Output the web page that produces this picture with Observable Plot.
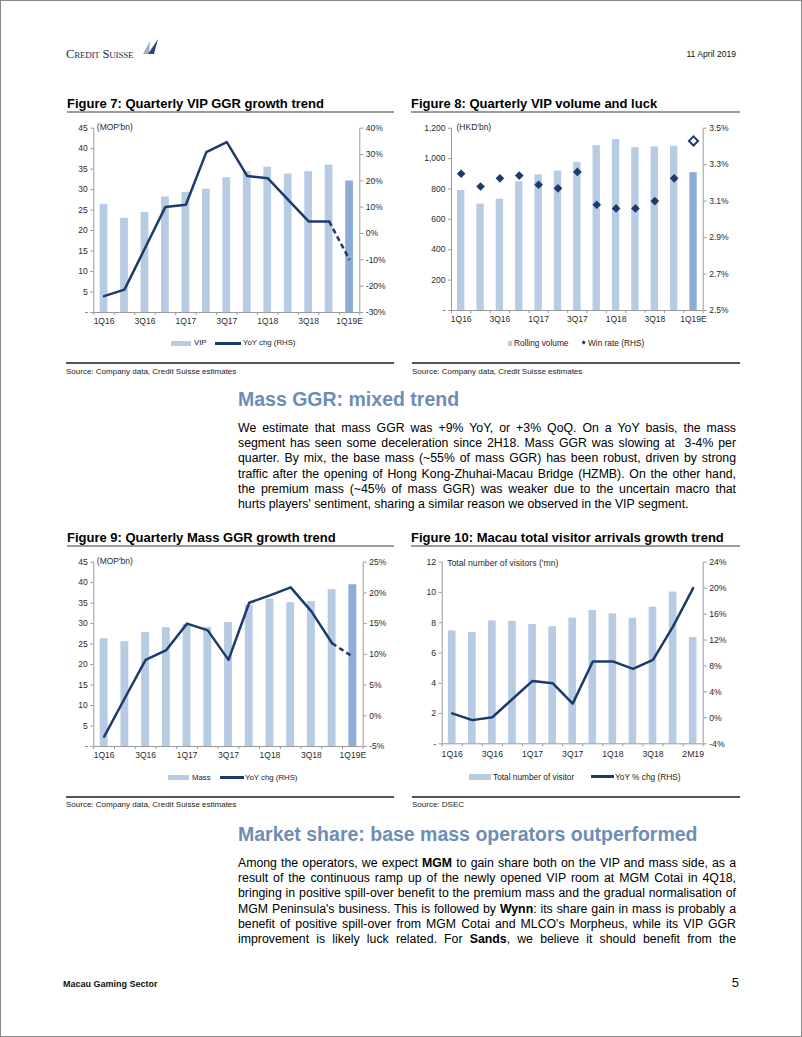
<!DOCTYPE html>
<html><head><meta charset="utf-8">
<script src="https://cdn.jsdelivr.net/npm/d3@7"></script>
<script src="https://cdn.jsdelivr.net/npm/@observablehq/plot@0.6"></script>
<style>
html,body{margin:0;padding:0;background:#fff;}
#page{position:relative;width:802px;height:1037px;box-sizing:border-box;border:1px solid #8a8a8a;overflow:hidden;font-family:"Liberation Sans",Arial,sans-serif;color:#000;}
.abs{position:absolute;white-space:nowrap;}
.ftitle{font-weight:bold;font-size:13px;line-height:16px;}
.uline{height:2px;background:#9c9c9c;}
.rule{height:2px;background:#555;}
.src{font-size:8px;line-height:10px;color:#222;}
.head{font-weight:bold;font-size:19.5px;line-height:24px;color:#6e8db5;}
.body{position:absolute;font-size:12.3px;line-height:15.33px;width:498px;}
.body div{text-align:justify;text-align-last:justify;white-space:normal;}
.body div.last{text-align-last:left;}
.lg{font-size:7.8px;line-height:10px;color:#222;}
.lg2{font-size:8.3px;line-height:10px;color:#222;}
.chart{position:absolute;}
</style>
</head><body>
<div id="page">
  <!-- header -->
  <div class="abs" style="left:65px;top:45px;font-family:'Liberation Serif','Times New Roman',serif;font-variant:small-caps;font-size:12.5px;line-height:16px;color:#1f2d52;letter-spacing:-0.2px;">Credit Suisse</div>
  <svg class="abs" style="left:140px;top:37px" width="20" height="17" viewBox="0 0 20 17">
    <polygon points="2,16 9,3 8,16" fill="#9fb0cb"/>
    <polygon points="7,16 17,1 13,16" fill="#2d4677"/>
  </svg>
  <div class="abs" style="right:65px;top:47.5px;font-size:8.6px;line-height:10px;color:#111;">11 April 2019</div>

  <!-- figure 7 / 8 titles -->
  <div class="abs ftitle" style="left:66px;top:94.7px;">Figure 7: Quarterly VIP GGR growth trend</div>
  <div class="abs uline" style="left:66px;top:109.5px;width:327px;"></div>
  <div class="abs ftitle" style="left:410px;top:94.7px;">Figure 8: Quarterly VIP volume and luck</div>
  <div class="abs uline" style="left:410px;top:109.5px;width:329px;"></div>

  <div class="chart" id="fig7" style="left:40px;top:112px;"></div>
  <div class="chart" id="fig8" style="left:400px;top:112px;"></div>

  <!-- legends 7/8 -->
  <div class="abs" style="left:170px;top:339.8px;width:20px;height:5px;background:#b7cbe3;"></div>
  <div class="abs lg" style="left:193px;top:337.3px;">VIP</div>
  <div class="abs" style="left:214px;top:341px;width:26px;height:2.6px;background:#1d3a6c;"></div>
  <div class="abs lg" style="left:242px;top:337.3px;">YoY chg (RHS)</div>

  <div class="abs" style="left:506.5px;top:340px;width:4.5px;height:4.5px;background:#b7cbe3;"></div>
  <div class="abs lg2" style="left:513px;top:337px;">Rolling volume</div>
  <div class="abs" style="left:581.2px;top:340.3px;width:3.4px;height:3.4px;background:#1d3a6c;transform:rotate(45deg);"></div>
  <div class="abs lg2" style="left:587px;top:337px;">Win rate (RHS)</div>

  <div class="abs rule" style="left:65px;top:361px;width:328px;"></div>
  <div class="abs rule" style="left:411px;top:361px;width:328px;"></div>
  <div class="abs src" style="left:65px;top:365.7px;">Source: Company data, Credit Suisse estimates</div>
  <div class="abs src" style="left:411px;top:365.7px;">Source: Company data, Credit Suisse estimates</div>

  <!-- section 1 -->
  <div class="abs head" style="left:237px;top:386.3px;">Mass GGR: mixed trend</div>
  <div class="body" id="p1" style="left:237px;top:419.7px;"></div>

  <!-- figure 9 / 10 titles -->
  <div class="abs ftitle" style="left:66px;top:528.7px;">Figure 9: Quarterly Mass GGR growth trend</div>
  <div class="abs uline" style="left:66px;top:543.5px;width:327px;"></div>
  <div class="abs ftitle" style="left:410px;top:528.7px;">Figure 10: Macau total visitor arrivals growth trend</div>
  <div class="abs uline" style="left:410px;top:543.5px;width:329px;"></div>

  <div class="chart" id="fig9" style="left:40px;top:546px;"></div>
  <div class="chart" id="fig10" style="left:400px;top:546px;"></div>

  <!-- legends 9/10 -->
  <div class="abs" style="left:167px;top:774.2px;width:21px;height:5px;background:#b7cbe3;"></div>
  <div class="abs lg" style="left:191px;top:771.7px;">Mass</div>
  <div class="abs" style="left:219px;top:775.4px;width:24px;height:2.6px;background:#1d3a6c;"></div>
  <div class="abs lg" style="left:244px;top:771.7px;">YoY chg (RHS)</div>

  <div class="abs" style="left:468px;top:772.7px;width:22px;height:6px;background:#b7cbe3;"></div>
  <div class="abs lg2" style="left:492px;top:770.7px;">Total number of visitor</div>
  <div class="abs" style="left:590px;top:774.4px;width:23px;height:2.6px;background:#1d3a6c;"></div>
  <div class="abs lg2" style="left:614px;top:770.7px;">YoY % chg (RHS)</div>

  <div class="abs rule" style="left:65px;top:795px;width:328px;"></div>
  <div class="abs rule" style="left:411px;top:795px;width:328px;"></div>
  <div class="abs src" style="left:65px;top:799.3px;">Source: Company data, Credit Suisse estimates</div>
  <div class="abs src" style="left:411px;top:799.3px;">Source: DSEC</div>

  <!-- section 2 -->
  <div class="abs head" style="left:237px;top:821.3px;">Market share: base mass operators outperformed</div>
  <div class="body" id="p2" style="left:237px;top:854.6px;"></div>

  <!-- footer -->
  <div class="abs" style="left:62px;top:978px;font-size:9px;line-height:10px;font-weight:bold;color:#111;">Macau Gaming Sector</div>
  <div class="abs" style="right:62px;top:974px;font-size:13px;line-height:16px;color:#111;">5</div>
</div>

<script>
// ---------- data ----------
const quarters = ["1Q16","2Q16","3Q16","4Q16","1Q17","2Q17","3Q17","4Q17","1Q18","2Q18","3Q18","4Q18","1Q19E"];
const periods10 = ["1Q16","2Q16","3Q16","4Q16","1Q17","2Q17","3Q17","4Q17","1Q18","2Q18","3Q18","4Q18","2M19"];

const vipGGR = [26.4,23.0,24.4,28.2,29.3,30.1,32.9,34.4,35.5,33.8,34.4,36.0,32.1];
const vipYoY = [-23.8,-21.3,-5.6,10.1,10.9,30.9,34.7,21.8,21.0,12.8,4.6,4.6,-10.0];

const rollingVolume = [790,700,733,848,892,918,975,1085,1125,1072,1077,1081,907];
const winRate = [3.25,3.18,3.225,3.24,3.19,3.17,3.26,3.08,3.06,3.06,3.10,3.225,3.43];

const massGGR = [26.3,25.6,27.8,29.0,29.8,29.1,30.3,34.5,36.0,35.1,35.4,38.3,39.5];
const massYoY = [-3.4,2.9,9.1,10.7,15.0,13.9,9.1,18.4,19.6,20.9,17.0,11.8,9.6];

const visitors = [7.46,7.35,8.12,8.10,7.88,7.73,8.30,8.81,8.59,8.30,9.03,10.02,7.02];
const visitorYoY = [0.7,-0.35,0.1,2.9,5.7,5.35,2.2,8.7,8.7,7.56,8.95,14.1,20.0];

const ticks7L = [0,5,10,15,20,25,30,35,40,45];
const ticks7R = [-30,-20,-10,0,10,20,30,40];
const ticks8L = [0,200,400,600,800,1000,1200];
const ticks8R = [2.5,2.7,2.9,3.1,3.3,3.5];
const ticks9L = [0,5,10,15,20,25,30,35,40,45];
const ticks9R = [-5,0,5,10,15,20,25];
const ticks10L = [0,2,4,6,8,10,12];
const ticks10R = [-4,0,4,8,12,16,20,24];

const para1 = [
  "We estimate that mass GGR was +9% YoY, or +3% QoQ. On a YoY basis, the mass",
  "segment has seen some deceleration since 2H18. Mass GGR was slowing at &nbsp;3-4% per",
  "quarter. By mix, the base mass (~55% of mass GGR) has been robust, driven by strong",
  "traffic after the opening of Hong Kong-Zhuhai-Macau Bridge (HZMB). On the other hand,",
  "the premium mass (~45% of mass GGR) was weaker due to the uncertain macro that",
  "hurts players' sentiment, sharing a similar reason we observed in the VIP segment."
];
const para2 = [
  "Among the operators, we expect <b>MGM</b> to gain share both on the VIP and mass side, as a",
  "result of the continuous ramp up of the newly opened VIP room at MGM Cotai in 4Q18,",
  "bringing in positive spill-over benefit to the premium mass and the gradual normalisation of",
  "MGM Peninsula's business. This is followed by <b>Wynn</b>: its share gain in mass is probably a",
  "benefit of positive spill-over from MGM Cotai and MLCO's Morpheus, while its VIP GGR",
  "improvement is likely luck related. For <b>Sands</b>, we believe it should benefit from the"
];

// ---------- text ----------
document.getElementById("p1").innerHTML = para1.map((l,i)=>`<div${i===para1.length-1?' class="last"':''}>${l}</div>`).join("");
document.getElementById("p2").innerHTML = para2.map(l=>`<div>${l}</div>`).join("");

// ---------- charts ----------
const LIGHT = "#b7cbe3", DARK = "#8dadd6", NAVY = "#1d3a6c", AX = "#9a9a9a", TXT = "#2a2a2a";
const FONT = "'Liberation Sans', Arial, sans-serif";

function dual(cfg) {
  const {cats, bars, right, leftDomain, leftTicks, leftFmt, rightDomain, rightTicks, rightFmt,
         W, H, ml, mr, mt, mb, unit, unitDx, unitDy, fs, estLast, dashLast, dots, xPad} = cfg;
  const N = cats.length;
  const L0 = leftDomain[0], LS = leftDomain[1] - leftDomain[0];
  const R0 = rightDomain[0], RS = rightDomain[1] - rightDomain[0];
  const toL = r => L0 + (r - R0) / RS * LS;
  const toR = v => R0 + (v - L0) / LS * RS;
  const data = cats.map((c, i) => ({i, c, v: bars[i], r: right[i], est: !!estLast && i === N - 1}));
  const bounds = d3.range(N + 1).map(i => i - 0.5);
  const hw = 0.19;
  const marks = [
    Plot.rectY(data.filter(d => !d.est), {x1: d => d.i - hw, x2: d => d.i + hw, y1: L0, y2: "v", fill: LIGHT}),
    Plot.rectY(data.filter(d => d.est), {x1: d => d.i - hw, x2: d => d.i + hw, y1: L0, y2: "v", fill: DARK}),
    Plot.ruleY([L0], {stroke: AX}),
    Plot.ruleX([bounds[0], bounds[N]], {x: d => d, stroke: AX}),
    Plot.ruleX(bounds, {x: d => d, y1: L0, y2: L0, insetBottom: -3, stroke: AX}),
    Plot.axisX({ticks: d3.range(0, N, 2), tickFormat: i => cats[i], tickSize: 0, tickPadding: xPad, fill: TXT, label: null}),
    Plot.axisY({anchor: "left", ticks: leftTicks, tickFormat: leftFmt, tickSize: 3, tickPadding: 3, stroke: AX, fill: TXT, label: null}),
    Plot.axisY({anchor: "right", ticks: rightTicks.map(toL), tickFormat: v => rightFmt(toR(v)), tickSize: 3, tickPadding: 3, stroke: AX, fill: TXT, label: null}),
    Plot.text([unit], {text: d => d, frameAnchor: "top-left", dx: unitDx, dy: unitDy, fill: TXT, fontSize: fs})
  ];
  if (dots) {
    marks.push(Plot.dot(data.filter(d => !d.est), {x: "i", y: d => toL(d.r), symbol: "diamond2", r: 3.9, fill: NAVY, stroke: "none"}));
    marks.push(Plot.dot(data.filter(d => d.est), {x: "i", y: d => toL(d.r), symbol: "diamond2", r: 4.1, fill: "white", stroke: NAVY, strokeWidth: 2}));
  } else if (dashLast) {
    marks.push(Plot.line(data.slice(0, N - 1), {x: "i", y: d => toL(d.r), stroke: NAVY, strokeWidth: 2.5}));
    marks.push(Plot.line(data.slice(N - 2), {x: "i", y: d => toL(d.r), stroke: NAVY, strokeWidth: 2.5, strokeDasharray: "5,3.5", strokeLinecap: "butt"}));
  } else {
    marks.push(Plot.line(data, {x: "i", y: d => toL(d.r), stroke: NAVY, strokeWidth: 2.5}));
  }
  return Plot.plot({
    width: W, height: H, marginLeft: ml, marginRight: mr, marginTop: mt, marginBottom: mb,
    x: {type: "linear", domain: [-0.5, N - 0.5], label: null},
    y: {domain: leftDomain, label: null},
    style: {fontFamily: FONT, fontSize: fs + "px", background: "transparent", overflow: "visible", color: TXT},
    marks
  });
}

const dashFmt = d => d === 0 ? "-" : d3.format(",")(d);
const pct0 = r => Math.round(r) + "%";
const pct1 = r => (Math.round(r * 10) / 10).toFixed(1) + "%";

document.getElementById("fig7").appendChild(dual({
  cats: quarters, bars: vipGGR, right: vipYoY,
  leftDomain: [0, 45], leftTicks: ticks7L, leftFmt: dashFmt,
  rightDomain: [-30, 40], rightTicks: ticks7R, rightFmt: pct0,
  W: 360, H: 218, ml: 52.3, mr: 41.7, mt: 14.7, mb: 19,
  unit: "(MOP'bn)", unitDx: 3, unitDy: -4, fs: 8.5, estLast: true, dashLast: true, xPad: 5.5
}));

document.getElementById("fig8").appendChild(dual({
  cats: quarters, bars: rollingVolume, right: winRate,
  leftDomain: [0, 1200], leftTicks: ticks8L, leftFmt: dashFmt,
  rightDomain: [2.5, 3.5], rightTicks: ticks8R, rightFmt: pct1,
  W: 345, H: 216, ml: 50, mr: 43.3, mt: 14.7, mb: 19,
  unit: "(HKD'bn)", unitDx: 5, unitDy: -4, fs: 8.5, estLast: true, dots: true, xPad: 5.5
}));

document.getElementById("fig9").appendChild(dual({
  cats: quarters, bars: massGGR, right: massYoY,
  leftDomain: [0, 45], leftTicks: ticks9L, leftFmt: dashFmt,
  rightDomain: [-5, 25], rightTicks: ticks9R, rightFmt: pct0,
  W: 360, H: 218, ml: 52.3, mr: 38.3, mt: 14.7, mb: 19,
  unit: "(MOP'bn)", unitDx: 3, unitDy: -4, fs: 8.5, estLast: true, dashLast: true, xPad: 5.5
}));

document.getElementById("fig10").appendChild(dual({
  cats: periods10, bars: visitors, right: visitorYoY,
  leftDomain: [0, 12], leftTicks: ticks10L, leftFmt: dashFmt,
  rightDomain: [-4, 24], rightTicks: ticks10R, rightFmt: pct0,
  W: 345, H: 216, ml: 40.7, mr: 43.3, mt: 14.7, mb: 19.7,
  unit: "Total number of visitors ('mn)", unitDx: 5, unitDy: -2, fs: 8.7, estLast: false, dashLast: false, xPad: 7.5
}));
</script>
</body></html>
